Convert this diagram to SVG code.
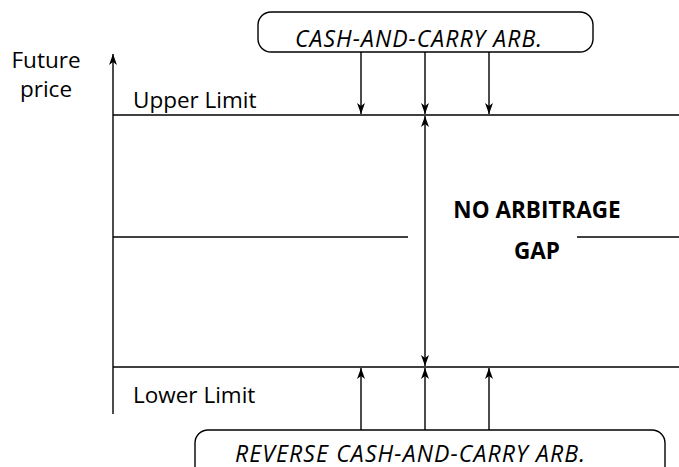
<svg xmlns="http://www.w3.org/2000/svg" width="679" height="467" viewBox="0 0 679 467">
<style>
text{font-family:"Open Sans","Noto Sans","Liberation Sans",sans-serif;font-size:22.5px;fill:#000}
.it{font-style:italic;font-size:23px}
.b{font-weight:bold}
.ln{stroke:#000;stroke-width:1.4;fill:none}
.box{stroke:#000;stroke-width:1.4;fill:#fff}
</style>
<defs>
<marker id="ah" markerUnits="userSpaceOnUse" markerWidth="12" markerHeight="10" viewBox="0 0 12 10" refX="11" refY="5" orient="auto-start-reverse">
<path d="M0,1 L11,5 L0,9 L3,5 z" fill="#000"/>
</marker>
</defs>
<g id="frame">
<line class="ln" x1="113" y1="115" x2="679" y2="115"/>
<line class="ln" x1="113" y1="367" x2="679" y2="367"/>
<line class="ln" x1="113" y1="237" x2="408" y2="237"/>
<line class="ln" x1="577" y1="237" x2="679" y2="237"/>
</g>
<g id="connectors">
<line class="ln" x1="113" y1="414" x2="113" y2="54" marker-end="url(#ah)"/>
<line class="ln" x1="361" y1="52" x2="361" y2="114" marker-end="url(#ah)"/>
<line class="ln" x1="425" y1="52" x2="425" y2="114" marker-end="url(#ah)"/>
<line class="ln" x1="489" y1="52" x2="489" y2="114" marker-end="url(#ah)"/>
<line class="ln" x1="425" y1="116" x2="425" y2="366" marker-start="url(#ah)" marker-end="url(#ah)"/>
<line class="ln" x1="361" y1="430" x2="361" y2="368" marker-end="url(#ah)"/>
<line class="ln" x1="425" y1="430" x2="425" y2="368" marker-end="url(#ah)"/>
<line class="ln" x1="489" y1="430" x2="489" y2="368" marker-end="url(#ah)"/>
</g>
<g id="cash-and-carry">
<rect class="box" x="258" y="12" width="335" height="40" rx="13"/>
<text class="it" x="295" y="47" textLength="247" lengthAdjust="spacing">CASH-AND-CARRY ARB.</text>
</g>
<g id="reverse-cash-and-carry">
<rect class="box" x="195" y="430" width="470" height="50" rx="13"/>
<text class="it" x="235" y="462" textLength="350" lengthAdjust="spacing">REVERSE CASH-AND-CARRY ARB.</text>
</g>
<g id="axis-label">
<text x="46" y="68" text-anchor="middle">Future</text>
<text x="46" y="97" text-anchor="middle">price</text>
</g>
<g id="upper-limit"><text x="133" y="108">Upper Limit</text></g>
<g id="lower-limit"><text x="133" y="403">Lower Limit</text></g>
<g id="no-arbitrage-gap">
<text class="b" x="537" y="218" text-anchor="middle">NO ARBITRAGE</text>
<text class="b" x="537" y="259" text-anchor="middle">GAP</text>
</g>
</svg>
